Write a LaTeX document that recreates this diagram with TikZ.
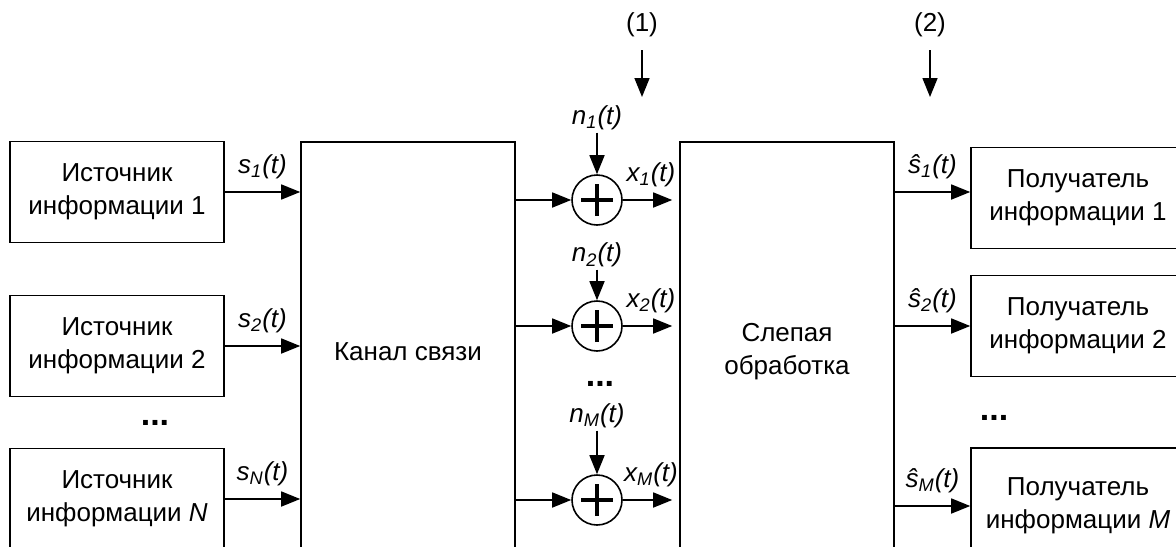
\documentclass[tikz,border=0pt]{standalone}
\usepackage{fontspec}
\setmainfont{Liberation Sans}
\usetikzlibrary{arrows.meta,positioning}

\newcommand{\sgn}[2]{\textit{#1\textsubscript{#2}(t)}}

\tikzset{
    block/.style={draw, line width=0.8pt, align=center, minimum width=107pt, minimum height=50.5pt, inner sep=0pt},
    bigblock/.style={block, minimum height=210pt},
    adder/.style={draw, line width=0.8pt, circle, minimum size=25pt, inner sep=0pt,
        path picture={\draw[line width=2pt] (path picture bounding box.center) +(-8pt,0) -- +(8pt,0)
            (path picture bounding box.center) +(0,-8pt) -- +(0,8pt);}},
    flow/.style={-{Triangle[length=9.5pt,width=7.5pt]}, line width=0.8pt},
    lbl/.style={inner sep=1pt},
    dots/.style={font=\fontsize{17pt}{17pt}\selectfont\bfseries, inner sep=0pt},
}

\begin{document}
\begin{tikzpicture}[x=0.5pt, y=-0.5pt, font=\fontsize{13pt}{16.5pt}\selectfont]
    \useasboundingbox (0,0) rectangle (1176,546);
    \clip (0,0) rectangle (1176,546);

    \node[block] (srcone) at (117,192) {Источник\\информации 1};
    \node[block] (srctwo) at (117,346) {Источник\\информации 2};
    \node[block] (srcN) at (117,499) {Источник\\информации \textit{N}};
    \node[dots] (dotsrc) at (155,423) {...};

    \node[bigblock] (chan) at (408,352) {Канал связи};
    \node[bigblock] (proc) at (787,352) {Слепая\\обработка};

    \node[adder] (sumone) at (597,200) {};
    \node[adder] (sumtwo) at (597,326) {};
    \node[adder] (sumM) at (597,500) {};
    \node[dots] (dotsum) at (600,384) {...};

    \node[lbl] (none) at (597,118) {\sgn{n}{1}};
    \node[lbl] (ntwo) at (597,255) {\sgn{n}{2}};
    \node[lbl] (nM) at (597,416) {\sgn{n}{\textit{M}}};

    \node[block] (rcvone) at (1078,198) {Получатель\\информации 1};
    \node[block] (rcvtwo) at (1078,326) {Получатель\\информации 2};
    \node[block, minimum height=58pt] (rcvM) at (1078,506) {Получатель\\информации \textit{M}};
    \node[dots] (dotrcv) at (994,418) {...};
    \coordinate (inone) at ([yshift=3pt]rcvone.west);

    \node (markone) at (642,25) {(1)};
    \node (marktwo) at (930,25) {(2)};
    \coordinate (tipone) at (642,97);
    \coordinate (tiptwo) at (930,97);

    \draw[flow] (srcone) -- (chan.west |- srcone) node[midway, above=3pt] {\sgn{s}{1}};
    \draw[flow] (srctwo) -- (chan.west |- srctwo) node[midway, above=3pt] {\sgn{s}{2}};
    \draw[flow] (srcN) -- (chan.west |- srcN) node[midway, above=3pt] {\sgn{s}{\textit{N}}};

    \draw[flow] (chan.east |- sumone) -- (sumone);
    \draw[flow] (chan.east |- sumtwo) -- (sumtwo);
    \draw[flow] (chan.east |- sumM) -- (sumM);

    \draw[flow] (none) -- (sumone);
    \draw[flow] (ntwo) -- (sumtwo);
    \draw[flow] (nM) -- (sumM);

    \draw[flow, shorten >=3.5pt] (sumone) -- (proc.west |- sumone) node[midway, above=3pt] {\sgn{x}{1}};
    \draw[flow, shorten >=3.5pt] (sumtwo) -- (proc.west |- sumtwo) node[midway, above=3pt] {\sgn{x}{2}};
    \draw[flow, shorten >=3.5pt] (sumM) -- (proc.west |- sumM) node[midway, above=3pt] {\sgn{x}{\textit{M}}};

    \draw[flow] (proc.east |- inone) -- (inone) node[midway, above=3pt] {\sgn{ŝ}{1}};
    \draw[flow] (proc.east |- rcvtwo) -- (rcvtwo) node[midway, above=3pt] {\sgn{ŝ}{2}};
    \draw[flow] (proc.east |- rcvM) -- (rcvM) node[midway, above=3pt] {\sgn{ŝ}{\textit{M}}};

    \draw[flow, shorten <=3pt] (markone) -- (tipone);
    \draw[flow, shorten <=3pt] (marktwo) -- (tiptwo);
\end{tikzpicture}
\end{document}
